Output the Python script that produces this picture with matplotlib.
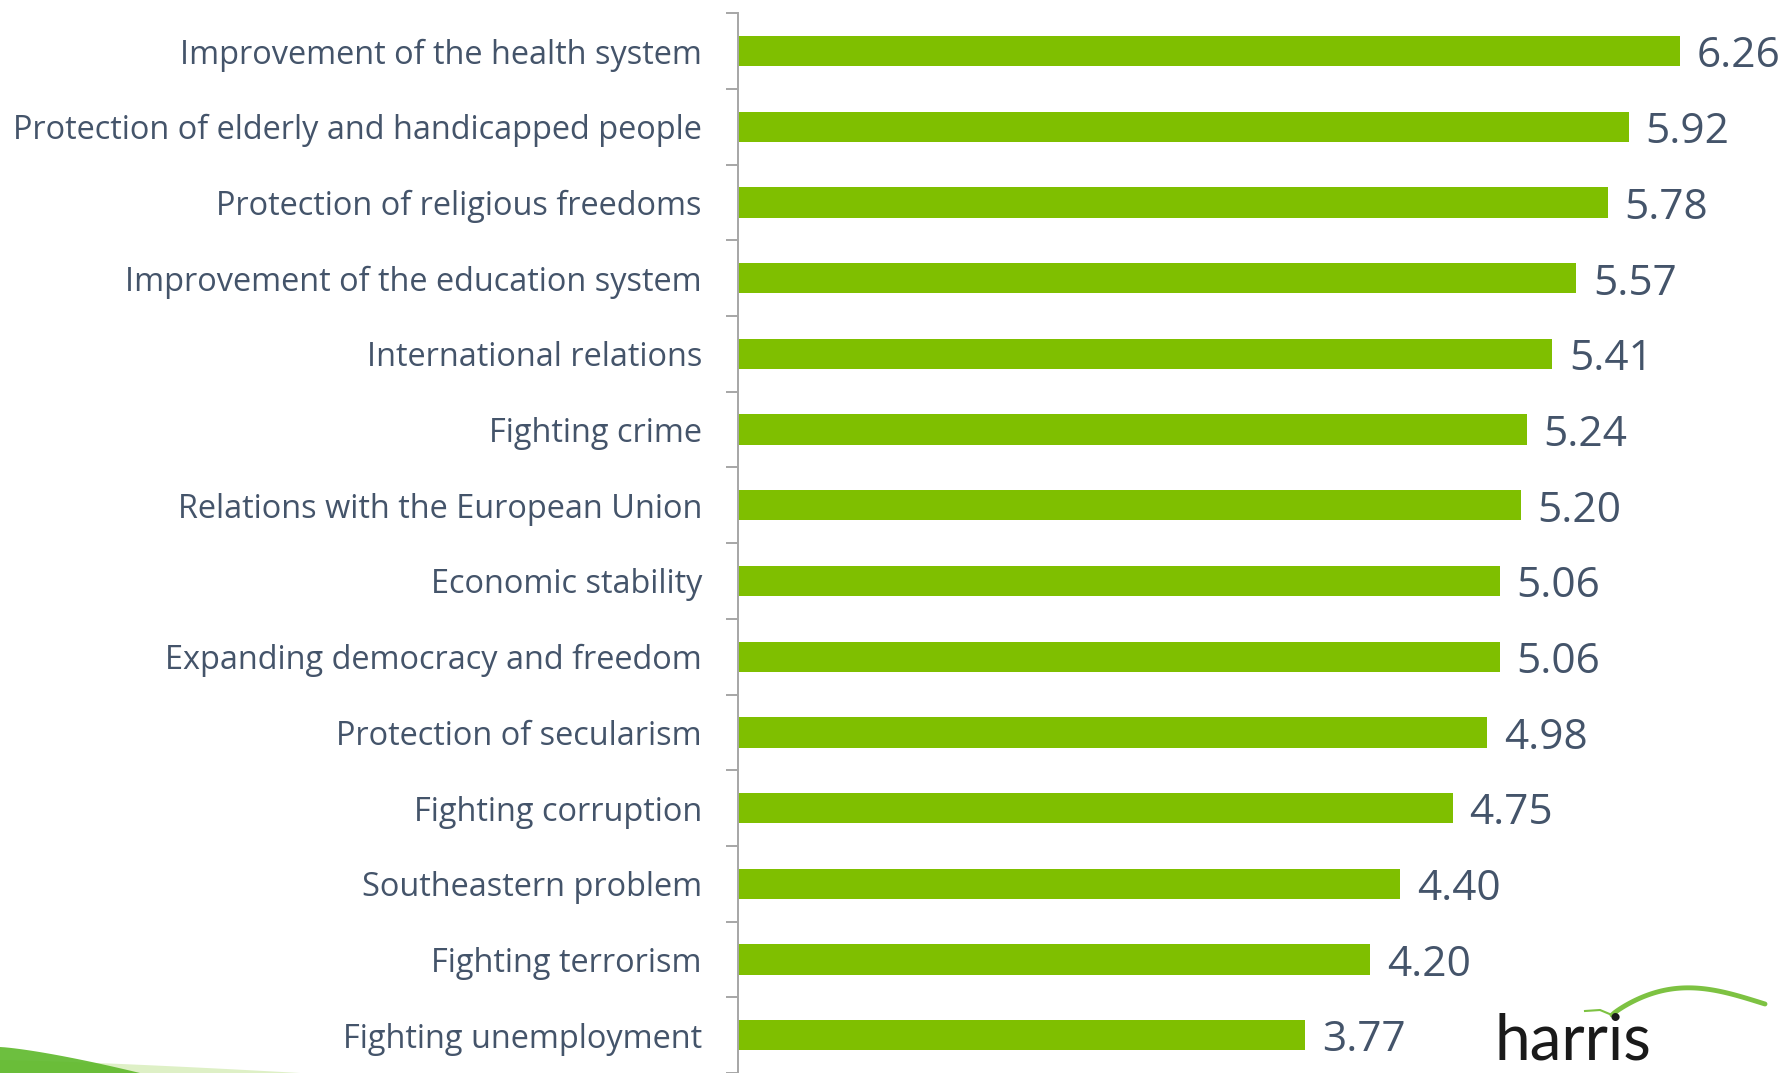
import matplotlib.pyplot as plt
import numpy as np
from matplotlib.patches import Polygon

# --- data --- #
categories = [
    'Improvement of the health system',
    'Protection of elderly and handicapped people',
    'Protection of religious freedoms',
    'Improvement of the education system',
    'International relations',
    'Fighting crime',
    'Relations with the European Union',
    'Economic stability',
    'Expanding democracy and freedom',
    'Protection of secularism',
    'Fighting corruption',
    'Southeastern problem',
    'Fighting terrorism',
    'Fighting unemployment',
]
scores = [6.26, 5.92, 5.78, 5.57, 5.41, 5.24, 5.20, 5.06, 5.06, 4.98, 4.75, 4.40, 4.20, 3.77]

bar_color = '#7FBF00'
text_color = '#44546A'

plt.rcParams['font.family'] = ['Open Sans', 'DejaVu Sans']

W, H = 1785, 1073
fig = plt.figure(figsize=(W / 100, H / 100), dpi=100)
ax = fig.add_axes([738 / W, 0, 1 - 738 / W, 1 - 13.3 / H])

y = np.arange(len(categories))
ax.barh(y, scores, height=0.40, color=bar_color, zorder=2)

for yi, v in zip(y, scores):
    ax.text(v + 0.11, yi + 0.07, f'{v:.2f}', va='center', ha='left',
            fontsize=30.5, color=text_color)

ax.set_xlim(0, 1047 / 150.5)
ax.set_ylim(len(categories) - 0.5, -0.5)

# category labels, ticks between categories
ax.set_yticks(y)
ax.set_yticklabels(categories, fontsize=23.4, color=text_color)
ax.tick_params(axis='y', which='major', length=0, pad=26)
ax.set_yticks(np.arange(len(categories) + 1) - 0.5, minor=True)
ax.tick_params(axis='y', which='minor', length=9, width=1.4, color='#A6A6A6')
ax.set_xticks([])

for s in ['top', 'right', 'bottom']:
    ax.spines[s].set_visible(False)
ax.spines['left'].set_color('#A6A6A6')
ax.spines['left'].set_linewidth(1.4)


def px(x, y_):
    # figure pixel (from top-left) -> figure fraction
    return x / W, 1 - y_ / H


# --- decorations: bottom-left swoosh and harris logo --- #
for x_end, y_top, col, a in [(300, 1060, '#C8E6A0', 0.6), (140, 1047, '#5DB82A', 0.9)]:
    tt = np.linspace(0, 1, 30)
    edge = [px(x_end * t_, y_top + (1073 - y_top) * t_ ** 1.3) for t_ in tt]
    poly = Polygon(edge + [px(0, 1073)], closed=True, transform=fig.transFigure,
                   color=col, alpha=a, lw=0, zorder=0)
    fig.patches.append(poly)

fig.text(1494 / W, 1 - 1060 / H, 'harris', fontsize=46, color='#1A1A1A',
         family=['Lato', 'DejaVu Sans'], va='baseline')
t = np.linspace(0, 1, 60)
arc_x = 1612 + t * 153
arc_y = 1015 - 11 * t - 22 * np.sin(np.pi * t ** 0.85)
fig.add_artist(plt.Line2D(*px(arc_x, arc_y), color='#7DC242', lw=3.5,
                          solid_capstyle='round', transform=fig.transFigure))
fig.add_artist(plt.Line2D(*px(np.array([1585, 1600, 1612]), np.array([1011, 1010, 1015])),
                          color='#7DC242', lw=1.5, transform=fig.transFigure))

fig.savefig('out.png', dpi=100)
